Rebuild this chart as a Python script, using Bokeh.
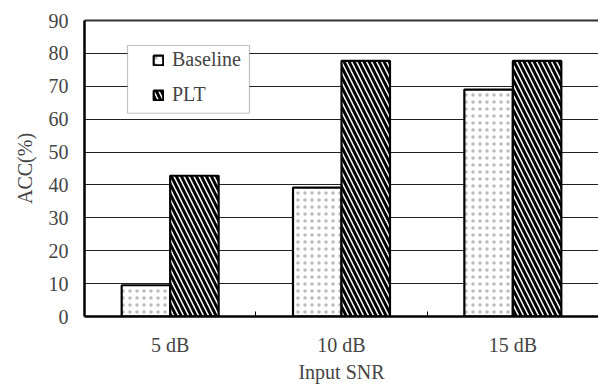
from bokeh.plotting import figure
from bokeh.models import (ColumnDataSource, FixedTicker, LinearAxis, Legend, LegendItem,
                          BoxAnnotation, Range1d)
from bokeh.transform import dodge
from bokeh.embed import file_html
from bokeh.resources import INLINE

categories = ["5 dB", "10 dB", "15 dB"]
baseline = [9.5, 39.2, 69.0]
plt_vals = [42.8, 77.7, 77.7]
y_ticks = [0, 10, 20, 30, 40, 50, 60, 70, 80, 90]

FONT = "Liberation Serif"
FS = "20px"
BW = 0.283

src = ColumnDataSource(dict(
    x=[i + 0.5 for i in range(len(categories))],
    baseline=baseline,
    plt=plt_vals,
))

p = figure(width=598, height=385, output_backend="svg", toolbar_location=None,
           x_range=Range1d(0, len(categories)), y_range=Range1d(0, 90),
           min_border_left=84, min_border_top=20, min_border_right=0, min_border_bottom=0)
p.outline_line_color = None
p.background_fill_color = "white"

r1 = p.vbar(x=dodge("x", -BW / 2), top="baseline", width=BW, bottom=0, source=src,
            fill_color="white", line_color="black", line_width=2.2,
            hatch_pattern="dot", hatch_scale=7, hatch_color="#bbb", hatch_weight=0.3)
r2 = p.vbar(x=dodge("x", BW / 2), top="plt", width=BW, bottom=0, source=src,
            fill_color="white", line_color="black", line_width=2.2,
            hatch_pattern="left_diagonal_line", hatch_scale=10, hatch_color="black",
            hatch_weight=3)

# axes
xa = p.xaxis[0]
xa.ticker = FixedTicker(ticks=[i + 0.5 for i in range(len(categories))],
                        minor_ticks=[float(i) for i in range(1, len(categories))])
xa.major_label_overrides = {i + 0.5: c for i, c in enumerate(categories)}
xa.major_tick_line_color = None
xa.minor_tick_in = 5
xa.minor_tick_out = 0
xa.minor_tick_line_color = "black"
xa.axis_line_width = 2.5
xa.axis_line_color = "black"
xa.major_label_text_font = FONT
xa.major_label_text_font_size = FS
xa.major_label_standoff = 11
xa.axis_label = "Input SNR"
xa.axis_label_text_font = FONT
xa.axis_label_text_font_size = FS
xa.axis_label_text_font_style = "normal"
xa.axis_label_standoff = 2

ya = p.yaxis[0]
ya.ticker = FixedTicker(ticks=y_ticks)
ya.major_tick_out = 0
ya.major_tick_in = 0
ya.minor_tick_line_color = None
ya.axis_line_width = 2.5
ya.axis_line_color = "black"
ya.major_label_text_font = FONT
ya.major_label_text_font_size = FS
ya.major_label_standoff = 16
ya.axis_label = "ACC(%)"
ya.axis_label_text_font = FONT
ya.axis_label_text_font_size = FS
ya.axis_label_text_font_style = "normal"
ya.axis_label_standoff = 10

top_axis = LinearAxis(ticker=FixedTicker(ticks=[]), major_label_text_font_size="0px",
                      axis_line_width=2, axis_line_color="#333",
                      major_tick_line_color=None, minor_tick_line_color=None)
p.add_layout(top_axis, "above")

p.xgrid.grid_line_color = None
p.ygrid.ticker = FixedTicker(ticks=y_ticks)
p.ygrid.grid_line_color = "#222"
p.ygrid.grid_line_width = 1

# legend frame
box = BoxAnnotation(left=0.251, right=0.963, bottom=61.8, top=82.4,
                    fill_color="white", fill_alpha=1, line_color="#333", line_width=1.2)
p.add_layout(box)

legend = Legend(items=[LegendItem(label="Baseline", renderers=[r1]),
                       LegendItem(label="PLT", renderers=[r2])],
                location=(68, 210), padding=0, margin=0, spacing=12,
                glyph_width=12, glyph_height=12, label_height=20, label_standoff=8,
                label_text_font=FONT, label_text_font_size=FS,
                border_line_color=None, background_fill_alpha=0)
p.add_layout(legend)

open("out.html", "w").write(file_html(p, INLINE))
